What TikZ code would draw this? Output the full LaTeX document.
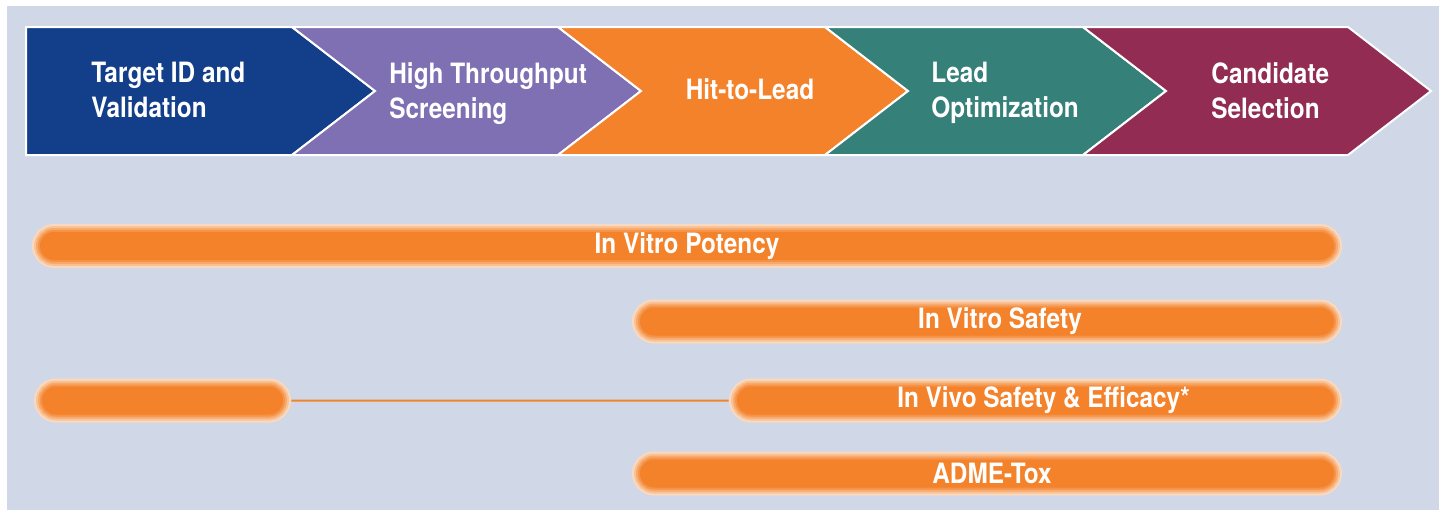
\documentclass[tikz,border=0pt]{standalone}
\usepackage{fontspec}
\setmainfont{TeX Gyre Heros}[FakeStretch=0.87]
\usetikzlibrary{positioning,shapes.misc,calc}
\definecolor{bgblue}{HTML}{D0D8E7}
\definecolor{stageblue}{HTML}{133E8A}
\definecolor{stagepurple}{HTML}{7F70B3}
\definecolor{stageorange}{HTML}{F3822A}
\definecolor{stageteal}{HTML}{36807A}
\definecolor{stagemaroon}{HTML}{922C52}
\definecolor{barorange}{HTML}{F3822A}

\begin{document}
\begin{tikzpicture}[x=0.5pt, y=-0.5pt,
    stagetext/.style={text=white, font=\bfseries\fontsize{14}{17.5}\selectfont,
        align=left, inner sep=0pt},
    bar/.style={rounded rectangle, inner sep=0pt, minimum height=14pt,
        fill=barorange,
        preaction={draw=barorange!30, line width=8pt},
        preaction={draw=barorange!48, line width=6pt},
        preaction={draw=barorange!68, line width=4pt},
        preaction={draw=barorange!86, line width=2pt},
        text=white, font=\bfseries\fontsize{14}{17}\selectfont},
    ]
\useasboundingbox (0,0) rectangle (1439,510);
\fill[bgblue] (7,6) rectangle (1439,510);

% stage arrows
\foreach \a/\b/\col/\d in {26/292/stageblue/0, 292/558/stagepurple/83,
    558/825/stageorange/83, 825/1083/stageteal/83, 1083/1348/stagemaroon/83}
    \filldraw[fill=\col, draw=white, line width=1pt]
    (\a,27) -- (\b,27) -- (\b+83,91) -- (\b,155) -- (\a,155) -- (\a+\d,91) -- cycle;

\node[stagetext, anchor=north west] (target) at (91,62) {Target ID and\\Validation};
\node[stagetext, anchor=north west] (hts) at (389,62) {High Throughput\\Screening};
\node[stagetext] (hitlead) at (750,89) {Hit-to-Lead};
\node[stagetext, anchor=north west] (leadopt) at (931,62) {Lead\\Optimization};
\node[stagetext, anchor=north west] (candidate) at (1211,62) {Candidate\\Selection};

% assay bars
\node[bar, minimum width=647pt] (potency) at (687,246) {In Vitro Potency};
\node[bar, minimum width=347pt] (safety) at (987,321.5) {\hspace*{13pt}In Vitro Safety};
\node[bar, minimum width=120.5pt] (vivoearly) at (162.5,400.5) {};
\node[bar, minimum width=298.5pt] (vivo) at (1035.5,400.5) {\hspace*{8pt}In Vivo Safety \& Efficacy*};
\node[bar, minimum width=347pt] (admetox) at (987,473.5) {\hspace*{5pt}ADME-Tox};
\draw[barorange, line width=1pt, shorten <=4pt, shorten >=4pt] (vivoearly) -- (vivo);

\end{tikzpicture}
\end{document}
